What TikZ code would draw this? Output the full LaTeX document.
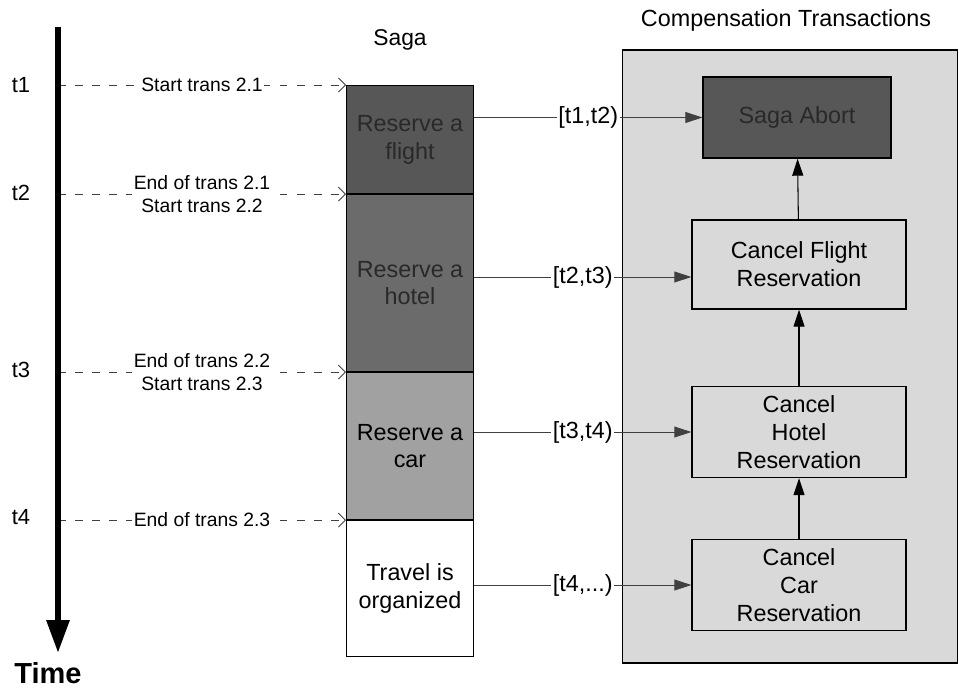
\documentclass[tikz,border=0pt]{standalone}
\usepackage{fontspec}
\setmainfont{Liberation Sans}
\usetikzlibrary{arrows.meta,positioning}
\definecolor{flightgray}{gray}{0.34}
\definecolor{hotelgray}{gray}{0.42}
\definecolor{cargray}{gray}{0.63}
\definecolor{panelgray}{gray}{0.85}
\definecolor{shadowtext}{gray}{0.16}
\tikzset{
  big/.style={font=\fontsize{13.3}{15.9}\selectfont},
  row/.style={rectangle, draw=black, line width=0.6pt, inner sep=0pt,
    minimum width=2.54cm, align=center, big},
  compbox/.style={rectangle, draw=black, line width=0.8pt, inner sep=0pt,
    minimum width=4.28cm, minimum height=1.82cm, align=center, big},
  tlab/.style={font=\fontsize{12.5}{15}\selectfont},
  evt/.style={fill=white, inner sep=1pt, align=center,
    font=\fontsize{11}{13.1}\selectfont},
  tick/.style={draw=black!75, line width=0.5pt, dash pattern=on 4.5pt off 5.2pt,
    -{Straight Barb[length=1.4mm, width=2.8mm]}},
  link/.style={draw=black!75, line width=0.5pt, -{Triangle[length=3.4mm, width=2.2mm]}},
  up/.style={draw=black, line width=0.6pt, -{Triangle[length=3.4mm, width=2.2mm]}},
  tag/.style={fill=white, inner sep=1pt, big},
}
\begin{document}
\begin{tikzpicture}[x=0.02cm, y=-0.02cm]
  \useasboundingbox (0,0) rectangle (959,689);

  % headings
  \node[font=\fontsize{13}{15.6}\selectfont] (sagahead) at (400,40) {Saga};
  \node[big] (comphead) at (786,20) {Compensation Transactions};

  % the saga, one row per transaction
  \node[row, anchor=north west, fill=flightgray, text=shadowtext, minimum height=2.16cm]
    (r1) at (346,85) {Reserve a\\ flight};
  \node[row, fill=hotelgray, text=shadowtext, minimum height=3.54cm, below=0pt of r1]
    (r2) {Reserve a\\ hotel};
  \node[row, fill=cargray, minimum height=2.94cm, below=0pt of r2]
    (r3) {Reserve a\\ car};
  \node[row, fill=white, minimum height=2.72cm, below=0pt of r3]
    (r4) {Travel is\\ organized};

  % compensation panel
  \node[rectangle, draw=black, line width=0.8pt, fill=panelgray, minimum width=6.7cm,
    minimum height=12.26cm, inner sep=0pt] (panel) at (790,356.5) {};
  \node[compbox, fill=flightgray, text=shadowtext, minimum width=3.76cm, minimum height=1.62cm]
    (abort) at (797,117.5) {Saga Abort};
  \node[compbox, minimum height=1.78cm] (cfl) at (799,264.5) {Cancel Flight\\ Reservation};
  \node[compbox] (chot) at (799,432) {Cancel\\ Hotel\\ Reservation};
  \node[compbox] (ccar) at (799,585) {Cancel\\ Car\\ Reservation};
  \coordinate (c2) at (0,277);

  \draw[up] (ccar) -- (chot);
  \draw[up] (chot) -- (cfl);
  \draw[up] (cfl) -- (abort);

  \draw[link] (r1.east |- abort.west) -- node[tag]{[t1,t2)} (abort.west);
  \draw[link] (r2.east |- c2) -- node[tag]{[t2,t3)} (cfl.west |- c2);
  \draw[link] (r3.east |- chot.west) -- node[tag]{[t3,t4)} (chot.west);
  \draw[link] (r4.east |- ccar.west) -- node[tag]{[t4,...)} (ccar.west);

  % time axis
  \coordinate (axis) at (58,27);
  \coordinate (tend) at (58,653);
  \foreach \n/\y in {1/85,2/193,3/370,4/517}
    \node[tlab] (l\n) at (21,\y) {t\n};
  \draw[tick] (axis |- r1.north west) -- node[evt]{Start trans 2.1} (r1.north west);
  \draw[tick] (axis |- r2.north west) -- node[evt]{End of trans 2.1\\ Start trans 2.2} (r2.north west);
  \draw[tick] (axis |- r3.north west) -- node[evt]{End of trans 2.2\\ Start trans 2.3} (r3.north west);
  \draw[tick] (axis |- r4.north west) -- node[evt]{End of trans 2.3} (r4.north west);
  \draw[line width=3.4pt, -{Triangle[length=6.6mm, width=4.4mm]}] (axis) -- (tend);
  \node[font=\bfseries\fontsize{16.5}{19}\selectfont] (time) at (48,673) {Time};
\end{tikzpicture}
\end{document}
